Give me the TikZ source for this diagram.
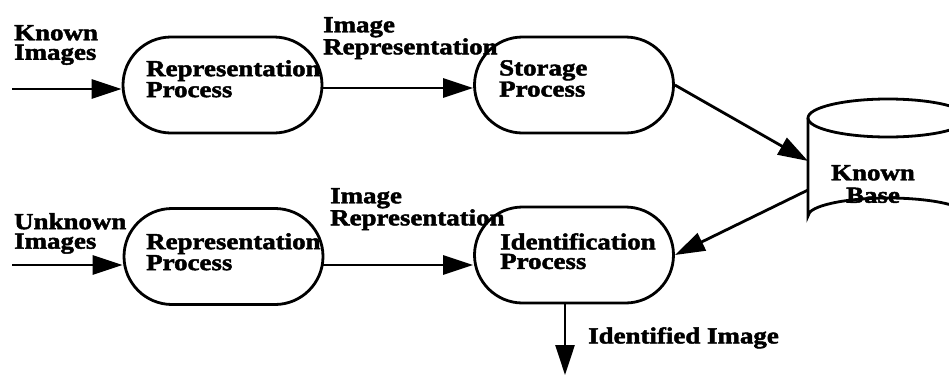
\documentclass[tikz,border=0pt]{standalone}
\usepackage{fontspec}
\setmainfont{Liberation Serif}[FakeStretch=1.17,FakeBold=2]
\usetikzlibrary{arrows.meta}
\begin{document}
\begin{tikzpicture}[x=1pt,y=-1pt,
  proc/.style={draw,line width=2.8pt,rounded corners=48pt,minimum width=199pt,minimum height=96pt,inner sep=0pt},
  lbl/.style={font=\bfseries\fontsize{23}{19.5}\selectfont,align=left,anchor=north west,inner sep=0pt},
  conn/.style={line width=2.8pt,-{Triangle[length=30pt,width=19pt]}},
  cyl/.style={line width=2.8pt}]
\useasboundingbox (0,0) rectangle (949,375);
\clip (0,0) rectangle (949,375);
% processes
\node[proc] (rep1) at (222.5,85) {};
\node[proc] (sto) at (574,85) {};
\node[proc] (rep2) at (223.5,256.5) {};
\node[proc] (ident) at (574,255) {};
% known base cylinder
\draw[cyl] (888,118) ellipse (80 and 19);
\draw[cyl] (808,118) -- (808,216) arc[start angle=180,end angle=360,x radius=80,y radius=18] -- (968,118);
\node[inner sep=0pt,minimum width=160pt,minimum height=132pt] (kb) at (888,166) {};
\coordinate (kbin) at (808,161);
\coordinate (kbout) at (808,190);
% free ends
\coordinate (k0) at (12,89);
\coordinate (u0) at (12,265);
\coordinate (a1) at (322,88);
\coordinate (a2) at (322,265);
\coordinate (d0) at (565,303);
\coordinate (d1) at (565,375);
% connectors
\draw[conn] (k0) -- (k0 -| rep1.west);
\draw[conn] (a1) -- (a1 -| sto.west);
\draw[conn] (sto.east) -- (kbin);
\draw[conn] (u0) -- (u0 -| rep2.west);
\draw[conn] (a2) -- (a2 -| ident.west);
\draw[conn] (kbout) -- (ident.east);
\draw[conn] (d0) -- (d1);
% texts
\node[lbl] (tk) at (14,25) {Known\\Images};
\node[lbl] (tir1) at (323,17) {Image\\Representation};
\node[lbl] (trep1) at (146,60) {Representation\\Process};
\node[lbl] (tsto) at (499,60) {Storage\\Process};
\node[lbl,anchor=north,align=center,font=\bfseries\fontsize{23}{22.5}\selectfont] (tkb) at (873,165) {Known\\Base};
\node[lbl] (tu) at (14,213) {Unknown\\Images};
\node[lbl] (tir2) at (330,188) {Image\\Representation};
\node[lbl] (trep2) at (146,233) {Representation\\Process};
\node[lbl] (tid) at (500,233) {Identification\\Process};
\node[lbl] (tidi) at (588,327) {Identified Image};
\end{tikzpicture}
\end{document}
